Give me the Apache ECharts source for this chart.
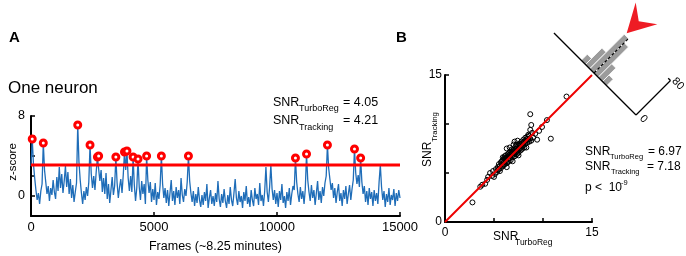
<!DOCTYPE html>
<html>
<head>
<meta charset="utf-8">
<script src="https://cdn.jsdelivr.net/npm/echarts/dist/echarts.min.js"></script>
<style>
html,body{margin:0;padding:0;background:#fff;}
#chart{width:686px;height:256px;}
</style>
</head>
<body>
<div id="chart"></div>
<script>
// ---------- DATA ----------
// Panel A: z-scored trace, one sample every 50 frames (0..15000)
const frameStep = 50;
const traceZ = [
 3.0, 5.7, 3.2, 1.8, 0.6, -0.4, 0.3, -0.8, 0.5, 1.2, 5.3, 2.6, 1.4, 0.2, 1.0, -0.5, 0.8, 0.1, 1.6, 0.4,
 -0.3, 1.9, 0.5, 2.9, 0.8, 2.2, 0.3, 1.5, 3.0, 0.9, 2.4, 0.2, 1.7, -0.2, 1.1, -0.6, 0.4, 1.3, 7.1, 3.4,
 1.6, 0.3, -0.8, 0.5, -0.4, 0.9, 0.0, 1.4, 5.1, 2.2, 0.8, 2.0, 0.6, 2.4, 3.9, 4.0, 1.5, 2.6, 0.4, 1.8,
 0.2, 2.3, -0.3, 1.2, -0.7, 0.6, 1.9, 0.1, 1.0, 3.9, 1.3, -0.2, 0.9, 1.7, 0.3, 2.1, 4.4, 2.6, 4.5, 1.8,
 0.5, 2.0, 0.4, 3.9, 1.1, -0.5, 0.8, 3.7, 0.9, -0.4, 1.5, 0.2, 1.2, -0.8, 4.0, 1.6, 0.3, 1.4, -0.6, 0.7,
 -0.4, 1.3, -0.9, 0.4, -0.3, 1.1, 4.0, 1.2, -0.2, 0.8, -0.7, 0.6, -1.0, 0.3, 1.6, -0.5, 0.5, -0.9, 0.9, -0.2,
 0.6, -0.8, 1.8, 0.1, -0.6, 0.7, 0.0, 1.4, 4.0, 1.5, 0.3, -0.6, 0.5, -1.0, 0.2, -0.7, 0.9, -0.4, -1.1, 0.1,
 -0.9, 0.4, -0.5, 1.2, -1.2, -0.2, 0.6, -0.8, 0.0, -1.0, 0.3, -0.6, 1.5, -0.3, -1.1, 0.2, -0.7, 0.7, -0.5, -1.2,
 0.1, -0.8, 0.9, -0.4, -1.0, 0.3, 1.7, -0.2, -0.9, 0.5, -0.6, 0.0, -1.2, 0.4, -0.5, 1.0, -0.8, -0.1, -1.1, 0.6,
 -0.4, -1.0, 0.8, -0.3, 0.2, -0.9, 1.3, -0.5, 0.1, -1.0, 0.5, 2.9, 0.4, -0.6, 0.9, 3.1, 0.7, -0.4, 0.6, -0.8,
 0.3, -1.1, 0.5, -0.4, 1.2, -0.7, 0.0, -1.2, 0.4, -0.5, 0.8, -0.9, 0.2, 1.0, 0.6, 3.8, 1.4, 0.2, -0.6, 0.9,
 -0.3, 0.5, -0.8, 0.7, 4.2, 1.6, 0.4, -0.5, 1.1, -0.2, 0.6, -0.9, 0.3, 1.5, -0.4, 0.5, -0.7, 0.9, 0.0, 1.3,
 2.0, 5.1, 2.8, 1.7, 0.6, 1.3, -0.2, 0.8, -0.7, 0.4, 1.2, -0.5, 0.3, -1.0, 0.6, -0.3, 1.0, -0.8, 0.2, 1.1,
 -0.4, 0.7, 1.6, 4.7, 2.3, 1.2, 2.1, 0.9, 3.8, 1.4, 0.2, 1.0, -0.6, 0.5, -0.9, 0.8, -0.3, 0.4, -1.0, 0.6,
 -0.5, 0.3, -0.8, 1.4, 3.1, 0.9, -0.4, 0.5, -1.1, 0.2, -0.6, 0.8, -0.9, 0.1, -0.4, 0.7, -1.0, 0.3, -0.5, 0.6,
 -0.2
];
const peakFrames = [50, 500, 1900, 2400, 2700, 2750, 3450, 3800, 3900, 4150, 4350, 4700, 5300, 6400, 10750, 11200, 12050, 13150, 13400];
const peakZ = [5.7, 5.3, 7.1, 5.1, 3.9, 4.0, 3.9, 4.4, 4.5, 3.9, 3.7, 4.0, 4.0, 4.0, 3.8, 4.2, 5.1, 4.7, 3.8];
const thresholdZ = 3.1;
const framesMax = 15000;
const snrA = {turboReg: '4.05', tracking: '4.21'};

// Panel B: SNR per neuron
const snrTurboReg = [2.8,3.6,3.8,4.1,4.3,4.4,4.6,4.8,4.9,5.0,5.1,5.2,5.3,5.4,5.5,5.5,5.6,5.6,5.7,5.7,
 5.8,5.9,5.9,5.9,6.0,6.0,6.1,6.1,6.2,6.2,6.3,6.3,6.3,6.3,6.4,6.4,6.5,6.5,6.6,6.6,
 6.6,6.7,6.7,6.8,6.8,6.9,6.9,6.9,7.0,7.0,7.0,7.1,7.1,7.1,7.2,7.2,7.3,7.3,7.4,7.4,
 7.5,7.5,7.5,7.6,7.6,7.7,7.7,7.8,7.8,7.9,7.9,8.0,8.0,8.1,8.1,8.2,8.2,8.3,8.3,8.4,
 8.4,8.5,8.6,8.6,8.7,8.7,8.7,8.8,8.8,9.0,9.2,9.4,9.6,9.9,10.4,10.8,12.4,
 5.8,6.0,6.2,6.4,6.5,6.7,6.8,7.0,7.2,7.3,7.4,7.6,7.8,8.0,8.2,8.4,8.5,8.9,6.1,5.4];
const snrTracking = [2.0,3.6,3.8,3.9,4.3,4.6,5.0,4.7,5.2,4.6,4.9,5.4,5.1,5.6,5.4,5.9,5.2,5.7,5.5,6.1,
 5.9,6.3,5.7,6.6,6.1,6.5,5.9,6.4,6.2,6.8,6.0,6.6,7.5,5.6,6.4,6.9,6.2,6.7,6.5,7.1,
 7.6,6.3,6.8,7.0,7.4,6.6,7.2,6.2,6.9,7.9,7.4,6.7,7.3,8.2,7.1,7.7,6.9,7.5,7.3,8.3,
 7.1,7.8,6.8,7.5,8.0,7.3,7.9,7.7,8.2,7.5,8.0,7.8,8.4,7.6,8.2,8.0,8.6,7.6,8.3,8.1,
 8.7,8.4,8.2,8.8,9.4,8.5,11.0,8.3,9.9,8.6,9.0,8.4,9.3,9.7,10.4,8.5,12.8,
 6.2,5.8,6.5,6.1,7.0,7.2,6.7,7.1,7.4,7.9,7.0,7.7,7.4,8.1,8.3,8.5,8.9,9.1,6.7,5.3];
const snrB = {turboReg: '6.97', tracking: '7.18', pExp: '-9'};

// Inset histogram of (Tracking - TurboReg)
const histDiff = [0.625, 0.375, 0.125, -0.125, -0.375, -0.625];
const histCount = [14, 38, 80, 70, 31, 15];
const meanDiff = 0.21;
const countMax = 80;

// ---------- RENDER ----------
const FONT = '"Liberation Sans", Arial, Helvetica, sans-serif';
const chart = echarts.init(document.getElementById('chart'), null, {renderer: 'canvas'});

const traceData = traceZ.map((v, i) => [i * frameStep, v]);
const peakData = peakFrames.map((f, i) => [f, peakZ[i]]);
const scatterData = snrTurboReg.map((x, i) => [x, snrTracking[i]]);
const histData = histDiff.map((d, i) => [d, histCount[i]]);
const binW = Math.abs(histDiff[1] - histDiff[0]);

// inset placement: crossing of baseline and diagonal
const C = [594, 73];
const S = Math.SQRT1_2;
function rot(p, O) {
  const dx = p[0] - O[0], dy = p[1] - O[1];
  return [C[0] + dx * S - dy * S, C[1] + dx * S + dy * S];
}
function rline(a, b, O, style) {
  const p = rot(a, O), q = rot(b, O);
  return {type: 'line', shape: {x1: p[0], y1: p[1], x2: q[0], y2: q[1]}, style: style};
}

function txt(s, x, y, size, o) {
  o = o || {};
  return {type: 'text', x: x, y: y, rotation: o.rot || 0, z: 100,
    style: {text: s, fill: '#000', font: (o.bold ? 'bold ' : '') + size + 'px ' + FONT,
      align: o.align || 'left', verticalAlign: 'middle'}};
}

const axisBlack = {show: true, onZero: false, lineStyle: {color: '#000', width: 2}};
const tickIn = {show: true, inside: true, length: 4, lineStyle: {color: '#000', width: 1.5}};

const option = {
  animation: false,
  backgroundColor: '#fff',
  textStyle: {fontFamily: FONT},
  grid: [
    {left: 31, top: 116, width: 369, height: 100},
    {left: 445, top: 75, width: 147, height: 147},
    {left: 100, top: 0, width: 120, height: 48.8, show: false}
  ],
  xAxis: [
    {gridIndex: 0, type: 'value', min: 0, max: framesMax, interval: 5000,
     axisLine: axisBlack, axisTick: tickIn, splitLine: {show: false},
     axisLabel: {color: '#000', fontSize: 13, margin: 5, fontFamily: FONT, formatter: v => String(v)}},
    {gridIndex: 1, type: 'value', min: 0, max: 15, interval: 5,
     axisLine: axisBlack, axisTick: tickIn, splitLine: {show: false},
     axisLabel: {color: '#000', fontSize: 12, margin: 5, fontFamily: FONT,
       formatter: v => (v === 0 || v === 15) ? String(v) : ''}},
    {gridIndex: 2, type: 'value', min: -2.5, max: 2.5, inverse: true, show: false}
  ],
  yAxis: [
    {gridIndex: 0, type: 'value', min: -2, max: 8, interval: 2,
     axisLine: axisBlack, axisTick: tickIn, splitLine: {show: false},
     axisLabel: {color: '#000', fontSize: 12.5, margin: 6, fontFamily: FONT,
       formatter: v => (v === 0 || v === 8) ? String(v) : ''}},
    {gridIndex: 1, type: 'value', min: 0, max: 15, interval: 5,
     axisLine: axisBlack, axisTick: tickIn, splitLine: {show: false},
     axisLabel: {color: '#000', fontSize: 12, margin: 3, fontFamily: FONT,
       formatter: v => (v === 0 || v === 15) ? String(v) : ''}},
    {gridIndex: 2, type: 'value', min: 0, max: countMax, show: false}
  ],
  series: [
    {type: 'line', xAxisIndex: 0, yAxisIndex: 0, data: traceData, showSymbol: false,
     lineStyle: {color: '#1f6db8', width: 1.3}, z: 2},
    {type: 'line', xAxisIndex: 0, yAxisIndex: 0, data: [[0, thresholdZ], [framesMax, thresholdZ]],
     showSymbol: false, lineStyle: {color: '#ff0000', width: 3}, z: 3},
    {type: 'scatter', xAxisIndex: 0, yAxisIndex: 0, data: peakData, symbol: 'circle', symbolSize: 6,
     itemStyle: {color: '#fff', borderColor: '#ff0000', borderWidth: 3, opacity: 1}, z: 4},
    {type: 'scatter', xAxisIndex: 1, yAxisIndex: 1, data: scatterData, symbol: 'circle', symbolSize: 5,
     itemStyle: {color: 'rgba(255,255,255,0)', borderColor: '#000', borderWidth: 1, opacity: 1}, z: 2},
    {type: 'line', xAxisIndex: 1, yAxisIndex: 1, data: [[0, 0], [15, 15]], showSymbol: false,
     lineStyle: {color: '#ee0000', width: 2}, z: 3},
    {type: 'custom', xAxisIndex: 2, yAxisIndex: 2, data: histData, clip: false, z: 5,
     renderItem: function (params, api) {
       const d = api.value(0), n = api.value(1);
       const O = api.coord([0, 0]);
       const a = api.coord([d + binW / 2, 0]), b = api.coord([d - binW / 2, n]);
       const pts = [[a[0], a[1]], [b[0], a[1]], [b[0], b[1]], [a[0], b[1]]].map(p => rot(p, O));
       return {type: 'polygon', shape: {points: pts},
         style: {fill: '#9b9b9b', stroke: '#ffffff', lineWidth: 0.8}};
     }},
    {type: 'custom', xAxisIndex: 2, yAxisIndex: 2, data: [[0, 0]], clip: false, z: 6,
     renderItem: function (params, api) {
       const O = api.coord([0, 0]);
       const bl = api.coord([2.36, 0]), br = api.coord([-2.475, 0]);
       const top = api.coord([-2.475, countMax]), topTick = api.coord([-2.34, countMax]);
       const dTop = api.coord([0, 82]);
       const xm = api.coord([meanDiff, 0])[0];
       const y0 = O[1];
       const k = api.size([0, 1])[1];
       const blk = {stroke: '#000', lineWidth: 1.3};
       const arrow = [[xm, y0 - 84 * k], [xm - 15.3, y0 - 130 * k], [xm, y0 - 112 * k], [xm + 15.3, y0 - 130 * k]]
         .map(p => rot(p, O));
       const l0 = rot([br[0] + 5, y0 - 2.5], O);
       const l80 = rot([br[0] + 1.5, top[1] - 3], O);
       return {type: 'group', children: [
         rline(bl, br, O, blk),
         rline(br, top, O, blk),
         rline(top, topTick, O, blk),
         rline(O, dTop, O, {stroke: '#000', lineWidth: 1.2, lineDash: [3, 2]}),
         {type: 'polygon', shape: {points: arrow}, style: {fill: '#ee1c24'}},
         {type: 'text', x: l0[0], y: l0[1], rotation: -Math.PI / 4,
          style: {text: '0', fill: '#000', font: '11px ' + FONT, align: 'left', verticalAlign: 'middle'}},
         {type: 'text', x: l80[0], y: l80[1], rotation: -Math.PI / 4,
          style: {text: '80', fill: '#000', font: '11px ' + FONT, align: 'left', verticalAlign: 'middle'}}
       ]};
     }}
  ],
  graphic: {elements: [
    txt('A', 9, 38, 15, {bold: true}),
    txt('B', 396, 38, 15, {bold: true}),
    txt('One neuron', 8, 88, 17),
    txt('SNR', 273, 103, 12.5), txt('TurboReg', 299, 109, 9), txt('= ' + snrA.turboReg, 343, 103, 12.5),
    txt('SNR', 273, 121, 12.5), txt('Tracking', 299, 127.5, 9), txt('= ' + snrA.tracking, 343, 121, 12.5),
    txt('z-score', 12.5, 162, 11.5, {rot: Math.PI / 2, align: 'center'}),
    txt('Frames (~8.25 minutes)', 215.5, 246.5, 12.5, {align: 'center'}),
    txt('SNR', 585, 151.5, 12), txt('TurboReg', 610, 156.5, 7.5), txt('= ' + snrB.turboReg, 648, 151.5, 12),
    txt('SNR', 585, 167, 12), txt('Tracking', 611, 172, 7.5), txt('= ' + snrB.tracking, 647, 167, 12),
    txt('p <  10', 585, 187.5, 12), txt(snrB.pExp, 621, 183, 7.5),
    txt('SNR', 493, 236.5, 12), txt('TurboReg', 515, 243, 8.5),
    txt('SNR', 428, 167, 12, {rot: Math.PI / 2}), txt('Tracking', 434.5, 141.7, 7.8, {rot: Math.PI / 2})
  ]}
};
chart.setOption(option);
</script>
</body>
</html>
